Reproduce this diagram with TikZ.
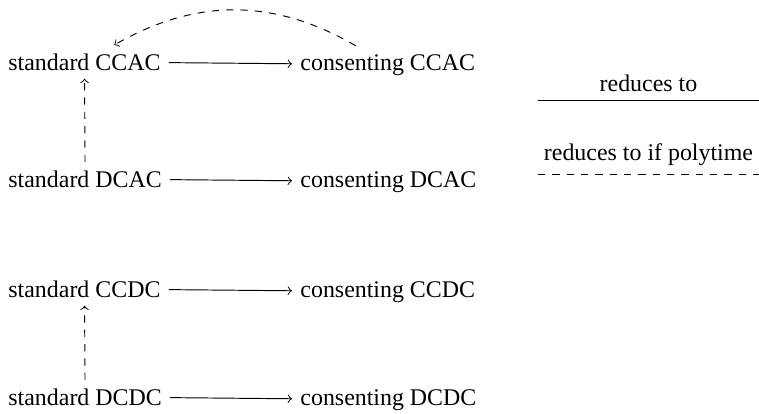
\documentclass[tikz,border=0pt]{standalone}
\usepackage{fontspec}
\setmainfont{Liberation Serif}
\begin{document}
\begin{tikzpicture}[x=0.4184pt,y=-0.4184pt,
  lbl/.style={anchor=base west},
  red/.style={->},
  poly/.style={->,dashed}]
\useasboundingbox (0,0) rectangle (759,414);
\node[lbl] (sCCAC) at (0,70) {standard CCAC};
\node[lbl] (cCCAC) at (292,70) {consenting CCAC};
\node[lbl] (sDCAC) at (0,187) {standard DCAC};
\node[lbl] (cDCAC) at (292,187) {consenting DCAC};
\node[lbl] (sCCDC) at (0,297) {standard CCDC};
\node[lbl] (cCCDC) at (292,297) {consenting CCDC};
\node[lbl] (sDCDC) at (0,405) {standard DCDC};
\node[lbl] (cDCDC) at (292,405) {consenting DCDC};
\draw[red] (sCCAC) -- (cCCAC);
\draw[red] (sDCAC) -- (cDCAC);
\draw[red] (sCCDC) -- (cCCDC);
\draw[red] (sDCDC) -- (cDCDC);
\draw[poly] (sDCAC) -- (sCCAC);
\draw[poly] (sDCDC) -- (sCCDC);
\draw[poly] (cCCAC) to[bend right=30] (sCCAC);
\coordinate (l1a) at (538,100);
\coordinate (l1b) at (759,100);
\coordinate (l2a) at (538,174);
\coordinate (l2b) at (759,174);
\draw (l1a) -- node[above] (t1) {reduces to} (l1b);
\draw[dashed] (l2a) -- node[above] (t2) {reduces to if polytime} (l2b);
\end{tikzpicture}
\end{document}
